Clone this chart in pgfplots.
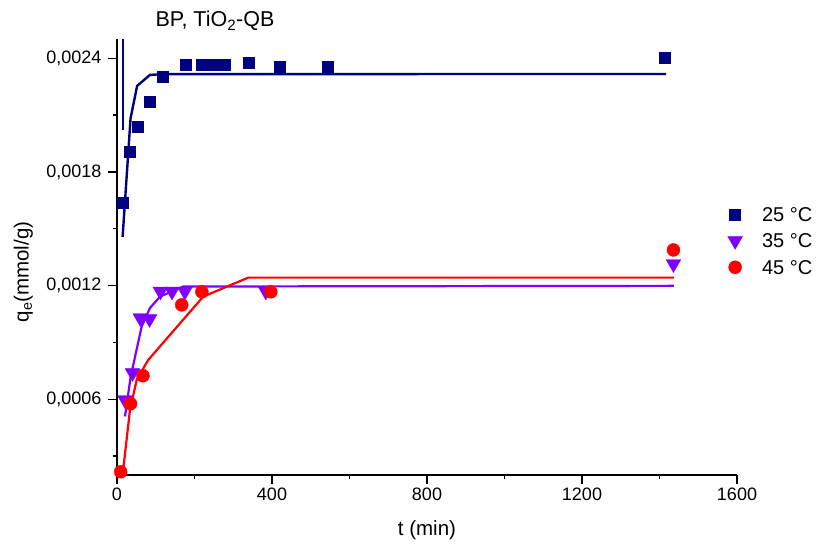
\documentclass[border=0pt]{standalone}
\usepackage{fontspec}
\setmainfont{Liberation Sans}
\usepackage{pgfplots}
\pgfplotsset{compat=1.18}
\definecolor{navyb}{HTML}{000080}
\definecolor{violetp}{HTML}{8000FF}
\definecolor{redc}{HTML}{FF0000}

\begin{document}
\begin{tikzpicture}[x=1pt,y=1pt]
\path[use as bounding box] (0,0) rectangle (822,545);
\begin{axis}[
  at={(117pt,70pt)}, anchor=south west,
  scale only axis, width=620pt, height=435.7pt,
  xmin=0, xmax=1600, ymin=0.0002, ymax=0.0025,
  axis x line*=bottom, axis y line*=left,
  axis line style={line width=1.6pt, -},
  every tick/.style={black, line width=1.4pt},
  tick align=outside,
  major tick length=9pt, minor tick length=4.5pt,
  xtick={0,400,800,1200,1600},
  minor xtick={200,600,1000,1400},
  ytick={0.0006,0.0012,0.0018,0.0024},
  minor ytick={0.0003,0.0009,0.0015,0.0021},
  scaled y ticks=false,
  scaled x ticks=false,
  yticklabel style={xshift=-3pt, /pgf/number format/fixed, /pgf/number format/fixed zerofill, /pgf/number format/precision=4, /pgf/number format/use comma, /pgf/number format/assume math mode=true},
  xticklabel style={/pgf/number format/fixed, /pgf/number format/precision=0, /pgf/number format/1000 sep={}, /pgf/number format/assume math mode=true},
  tick label style={font=\fontsize{18}{20}\selectfont},
  xlabel={t (min)},
  xlabel style={font=\fontsize{20.5}{24}\selectfont, at={(axis description cs:0.5,-0.1262)}, anchor=center},
  ylabel={q\textsubscript{e}(mmol/g)},
  ylabel style={font=\fontsize{20.5}{24}\selectfont, at={(axis description cs:-0.151,0.466)}, anchor=center},
  legend cell align=left,
  legend image code/.code={\draw[#1] plot coordinates {(0pt,0pt)};},
  legend style={draw=none, fill=none, inner sep=0pt, row sep=0pt,
    column sep=19.5pt,
    font=\fontsize{20}{24}\selectfont,
    nodes={inner sep=0pt, text height=20pt, text depth=6.5pt},
    at={(axis description cs:0.9848,0.5375)}, anchor=west},
]
\addplot[only marks, mark=square*, mark size=5.5pt, color=navyb] coordinates {
(13.7,0.001638) (33.5,0.001904) (53.4,0.002036) (83.4,0.002168) (118,0.0023)
(178,0.002368) (218.6,0.002368) (248.5,0.002368) (277,0.002368) (341,0.002377)
(420.6,0.002354) (542.7,0.002354) (1413,0.002402)};
\addlegendentry{25 °C}
\addplot[only marks, mark=triangle*, mark options={rotate=180}, mark size=8.5pt, color=violetp] coordinates {
(20.6,0.000596) (40,0.000739) (60,0.001029) (84,0.001024) (112,0.001169)
(142,0.001169) (175,0.001169) (384,0.001169) (1436,0.001314)};
\addlegendentry{35 °C}
\addplot[only marks, mark=*, mark size=6.5pt, color=redc] coordinates {
(9.5,0.000217) (35,0.000576) (67,0.000724) (167,0.001098) (219,0.001167)
(397,0.001167) (1436,0.001388)};
\addlegendentry{45 °C}
\addplot[navyb, line width=2.4pt, forget plot] coordinates {
(14.5,0.001457) (35,0.002083) (52,0.002254) (85,0.002312) (119,0.002316) (1417,0.002317)};
\addplot[navyb, line width=2.2pt, forget plot] coordinates {
(14.5,0.0026) (14.5,0.00202)};
\addplot[violetp, line width=2.2pt, forget plot] coordinates {
(20.6,0.000509) (35.4,0.00072) (63.7,0.000984) (85,0.001081) (111,0.001142)
(171,0.001195) (1437,0.0011985)};
\addplot[redc, line width=2.2pt, forget plot] coordinates {
(14.7,0.000205) (33.5,0.000544) (50.8,0.000702) (80.8,0.000808) (222.7,0.001142)
(339,0.001242) (1437,0.001242)};
\end{axis}
\node[anchor=base, font=\fontsize{21.5}{24}\selectfont] at (215pt,518pt) {BP, TiO\textsubscript{2}-QB};
\end{tikzpicture}
\end{document}
